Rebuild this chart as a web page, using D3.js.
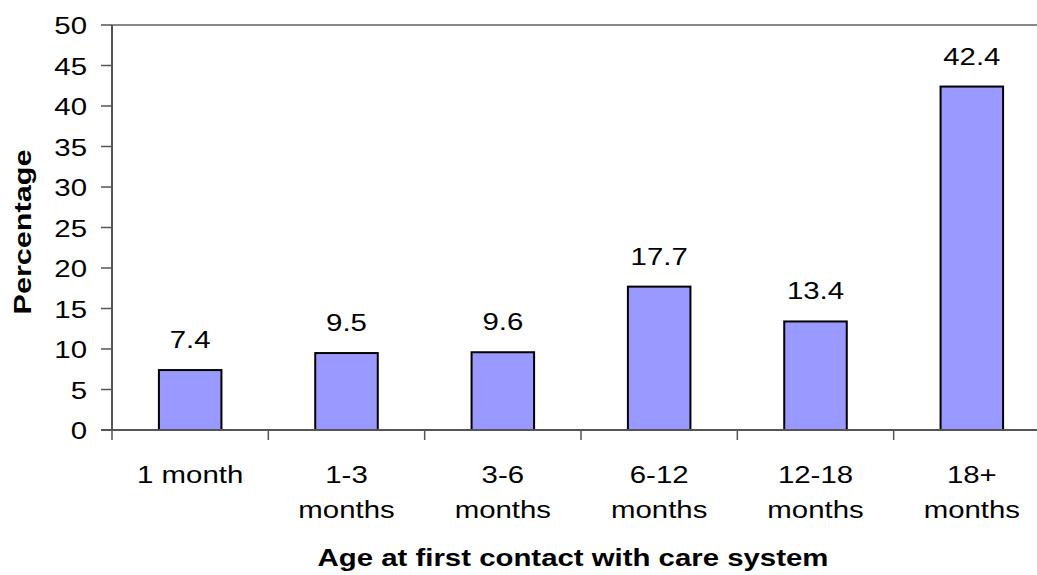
<!DOCTYPE html>
<html><head><meta charset="utf-8">
<script src="https://cdn.jsdelivr.net/npm/d3@7"></script>
<style>body{margin:0;background:#fff}svg{display:block}text{font-family:"Liberation Sans",Arial,sans-serif;fill:#000}</style>
</head><body>
<svg id="c" width="1037" height="575"></svg>
<script>
const categories = ["1 month", "1-3 months", "3-6 months", "6-12 months", "12-18 months", "18+ months"];
const categoryLines = [["1 month"], ["1-3", "months"], ["3-6", "months"], ["6-12", "months"], ["12-18", "months"], ["18+", "months"]];
const values = [7.4, 9.5, 9.6, 17.7, 13.4, 42.4];
const yTicks = [0, 5, 10, 15, 20, 25, 30, 35, 40, 45, 50];
const xTitle = "Age at first contact with care system";
const yTitle = "Percentage";

const svg = d3.select("#c");
const SX = 1.19, FS = 24.7;
const pLeft = 112, pRight = 1050, pTop = 25, pBottom = 430;
const x = d3.scaleBand().domain(categories).range([pLeft, pRight]).paddingInner(0.6).paddingOuter(0.3);
const y = d3.scaleLinear().domain([0, 50]).range([pBottom, pTop]);
const step = x.step(), bw = x.bandwidth();

function stext(g, tx, ty, str, opts = {}) {
  const sx = opts.sx || SX;
  return g.append("text")
    .attr("transform", `translate(${tx},${ty})` + (opts.rot ? " rotate(-90)" : "") + ` scale(${sx},1)`)
    .attr("text-anchor", opts.anchor || "middle")
    .attr("font-size", FS)
    .attr("font-weight", opts.bold ? "bold" : null)
    .text(str);
}

// top gridline at max
svg.append("line").attr("x1", pLeft).attr("x2", 1037).attr("y1", y(50)).attr("y2", y(50))
  .attr("stroke", "#888").attr("stroke-width", 2);

// bars
svg.selectAll("rect.bar").data(values).enter().append("rect")
  .attr("x", (d, i) => x(categories[i]))
  .attr("y", d => y(d))
  .attr("width", bw)
  .attr("height", d => y(0) - y(d))
  .attr("fill", "#9999FF").attr("stroke", "#000").attr("stroke-width", 2);

// y axis
svg.append("line").attr("x1", pLeft).attr("x2", pLeft).attr("y1", pTop).attr("y2", pBottom)
  .attr("stroke", "#555").attr("stroke-width", 2);
yTicks.forEach(t => {
  svg.append("line").attr("x1", pLeft - 11).attr("x2", pLeft).attr("y1", y(t)).attr("y2", y(t))
    .attr("stroke", "#555").attr("stroke-width", 1.5);
  stext(svg, 87, y(t) + 9, String(t), {anchor: "end"});
});

// x axis
svg.append("line").attr("x1", pLeft - 11).attr("x2", 1037).attr("y1", pBottom).attr("y2", pBottom)
  .attr("stroke", "#555").attr("stroke-width", 2);
categories.forEach((c, i) => {
  const bx = x(c) - (step - bw) / 2;
  svg.append("line").attr("x1", bx).attr("x2", bx).attr("y1", pBottom).attr("y2", pBottom + 10)
    .attr("stroke", "#555").attr("stroke-width", 1.5);
  const cx = x(c) + bw / 2;
  categoryLines[i].forEach((ln, j) => stext(svg, cx, 483 + j * 35, ln));
});

// value labels
values.forEach((v, i) => {
  stext(svg, x(categories[i]) + bw / 2, y(v) - 22, v.toFixed(1));
});

// titles
stext(svg, 573, 566, xTitle, {bold: true});
stext(svg, 31, 232, yTitle, {bold: true, rot: true, sx: 1.24});
</script>
</body></html>
